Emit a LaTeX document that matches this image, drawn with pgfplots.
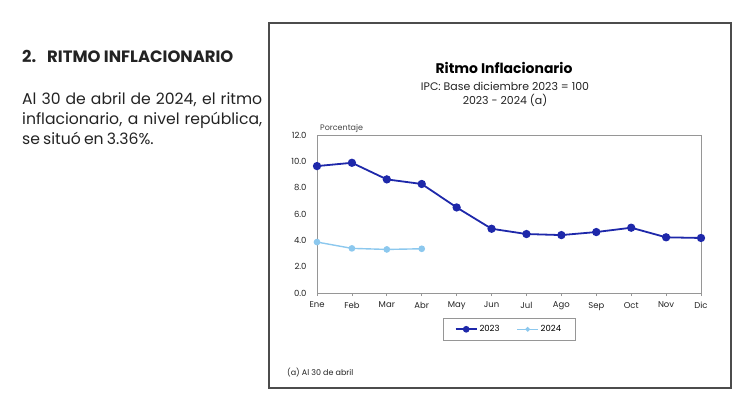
\documentclass[border=0pt]{standalone}
\usepackage{pgfplots}
\pgfplotsset{compat=1.18}
\usepackage{fontspec}
\setmainfont{Poppins}
\newfontfamily\parafont{Poppins}[WordSpace={0.75,0.8,0.5}]
\definecolor{c23}{RGB}{30,40,170}
\definecolor{c24}{RGB}{140,200,238}
\definecolor{txt}{RGB}{35,35,35}
\definecolor{axgray}{RGB}{150,150,150}
\begin{document}
\begin{tikzpicture}[x=1bp,y=1bp]
\path[use as bounding box] (0,0) rectangle (736,-398);
% left text
\node[anchor=base west, inner sep=0, text=txt, font=\fontsize{16.5}{18}\selectfont\bfseries] at (22,-62) {2.\hspace{11bp}RITMO INFLACIONARIO};
\node[anchor=base west, inner sep=0, text width=240bp, align=justify, text=txt, font=\parafont\fontsize{15.7}{20.5}\selectfont] at (22,-104) {Al 30 de abril de 2024, el ritmo\linebreak inflacionario, a nivel república,\linebreak se situó en 3.36\%.};
% chart frame
\draw[line width=1.3bp, color=black!70] (269,-23) rectangle (731,-388);
\node[anchor=base, inner sep=0, font=\fontsize{14}{16}\selectfont\bfseries] at (504,-73.5) {Ritmo Inflacionario};
\node[anchor=base, inner sep=0, text=txt, font=\fontsize{11}{13}\selectfont] at (505,-90.5) {IPC: Base diciembre 2023 = 100};
\node[anchor=base, inner sep=0, text=txt, font=\fontsize{11}{13}\selectfont] at (505,-104.5) {2023 - 2024 (a)};
\node[anchor=base west, inner sep=0, text=txt!85, font=\fontsize{8}{9}\selectfont] at (320,-130) {Porcentaje};
\node[anchor=base west, inner sep=0, text=txt, font=\fontsize{8}{9}\selectfont] at (287,-375) {(a) Al 30 de abril};
\begin{axis}[
  at={(317bp,-293bp)}, anchor=south west,
  width=384bp, height=158bp, scale only axis,
  xmin=0, xmax=11, ymin=0, ymax=12,
  xtick={0,...,11},
  xticklabels={Ene,Feb,Mar,Abr,May,Jun,Jul,Ago,Sep,Oct,Nov,Dic},
  ytick={0,2,...,12},
  yticklabel style={/pgf/number format/fixed, /pgf/number format/fixed zerofill, /pgf/number format/precision=1, xshift=-4bp},
  xticklabel style={yshift=-2.5bp},
  /pgf/number format/assume math mode=true,
  tick label style={font=\fontsize{8.5}{9}\selectfont, text=txt},
  axis line style={draw=axgray, line width=0.9bp},
  tick style={draw=axgray, line width=0.8bp},
  tick align=outside, major tick length=3bp,
  xtick pos=bottom, ytick pos=left,
  ytick style={draw=none},
  legend style={at={(0.5,0)}, anchor=north, yshift=-25bp, draw=axgray, line width=0.8bp,
    font=\fontsize{8.5}{9}\selectfont, inner xsep=12bp, inner ysep=5bp,
    /tikz/every even column/.append style={column sep=15bp}},
  legend columns=2,
  legend cell align=left,
]
\addplot[c23, line width=1.8bp, mark=*, mark size=3.2bp, mark options={fill=c23, draw=c23},
  legend image code/.code={\draw[c23, line width=1.6bp] (0bp,0bp) -- (21bp,0bp); \fill[c23] (10.5bp,0bp) circle (2.4bp);}] coordinates {
(0,9.64) (1,9.89) (2,8.63) (3,8.28) (4,6.50) (5,4.88) (6,4.48) (7,4.40) (8,4.63) (9,4.96) (10,4.23) (11,4.18)};
\addlegendentry{2023}
\addplot[c24, line width=1.4bp, mark=*, mark size=2.6bp, mark options={fill=c24, draw=c24},
  legend image code/.code={\draw[c24, line width=1.2bp] (0bp,0bp) -- (21bp,0bp); \fill[c24] (10.5bp,0bp) circle (1.6bp);}] coordinates {
(0,3.87) (1,3.39) (2,3.31) (3,3.36)};
\addlegendentry{2024}
\end{axis}
\end{tikzpicture}
\end{document}
